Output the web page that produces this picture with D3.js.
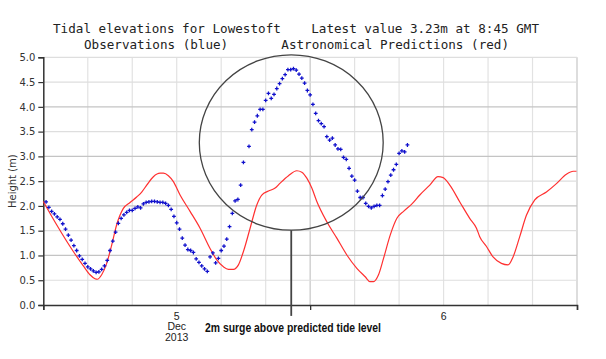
<!DOCTYPE html>
<html>
<head>
<meta charset="utf-8">
<script src="https://cdn.jsdelivr.net/npm/d3@7"></script>
<style>
  html, body { margin: 0; padding: 0; background: #fff; }
  svg { display: block; }
  text { white-space: pre; }
</style>
</head>
<body>
<svg id="chart" width="606" height="359"></svg>
<script>
// ---------------- DATA ----------------
const titleLine1 = "Tidal elevations for Lowestoft    Latest value 3.23m at 8:45 GMT";
const titleLine2 = "Observations (blue)       Astronomical Predictions (red)";
const yLabel = "Height (m)";
const annotationText = "2m surge above predicted tide level";

// x domain: 4 Dec 2013 12:00 GMT to 6 Dec 2013 12:00 GMT
const xStart = new Date(Date.UTC(2013, 11, 4, 12, 0));
const xEnd = new Date(Date.UTC(2013, 11, 6, 12, 0));

const yTicks = [0, 0.5, 1, 1.5, 2, 2.5, 3, 3.5, 4, 4.5, 5];
const dayLabels = [
  { date: new Date(Date.UTC(2013, 11, 5)), lines: ["5", "Dec", "2013"] },
  { date: new Date(Date.UTC(2013, 11, 6)), lines: ["6"] }
];

// Observations every 15 minutes starting 4 Dec 12:15 GMT (null = missing)
const obsStart = new Date(Date.UTC(2013, 11, 4, 12, 15));
const obsValues = [
  2.08, 1.97, 1.89, 1.84, 1.78, 1.73, 1.64, 1.53, 1.41, 1.31,
  1.20, 1.10, 0.99, 0.92, 0.84, 0.77, 0.73, 0.69, 0.66, 0.67,
  0.72, 0.79, 0.90, 1.10, 1.29, 1.47, 1.65, 1.75, 1.82, 1.87,
  1.91, 1.91, 1.95, 1.98, 1.96, 2.04, 2.07, 2.08, 2.09, 2.09,
  2.08, 2.07, 2.07, 2.05, 2.01, 1.93, 1.79, 1.66, 1.53, 1.35,
  1.21, 1.12, 1.10, 1.06, 0.93, 0.86, 0.79, 0.73, 0.68, 0.97,
  1.05, 0.85, 0.94, 1.10, 1.19, 1.33, 1.58, 1.85, 2.10, 2.13,
  2.42, 2.88, null, 3.20, 3.54, 3.69, 3.82, 3.95, 3.95, 4.13,
  4.27, 4.17, 4.25, 4.37, 4.47, 4.57, 4.65, 4.75, 4.75, 4.77,
  4.74, 4.66, 4.58, 4.48, 4.33, 4.24, 4.05, 3.87, 3.72, 3.66,
  3.60, 3.40, 3.33, 3.37, 3.23, 3.15, 3.14, 2.98, 2.94, 2.76,
  2.60, 2.52, 2.30, 2.17, 2.17, 2.05, 1.99, 1.96, 1.99, 2.01,
  2.01, 2.21, 2.34, 2.49, 2.62, 2.73, 2.84, 3.06, 3.11, 3.09,
  3.23
];

// Astronomical predictions: hours after 4 Dec 12:00 GMT and heights (m)
const predHours = [
  0, 1.2, 2.7, 3.6, 4.2, 4.65, 4.86, 5.25, 5.7, 6.15,
  6.6, 7.2, 7.8, 8.4, 8.85, 9.3, 9.9, 10.5, 10.8, 11.25,
  11.7, 12.3, 13.2, 14.1, 15.0, 15.6, 16.2, 16.65, 17.1, 17.55,
  18.0, 18.6, 19.2, 19.65, 20.25, 20.85, 21.3, 22.05, 22.8, 23.25,
  23.7, 24.15, 24.6, 25.5, 26.4, 27.3, 28.2, 28.95, 29.4, 29.7,
  30.15, 30.6, 31.2, 31.8, 32.4, 33.2, 33.86, 34.76, 35.5, 35.96,
  36.56, 37.46, 38.35, 38.96, 39.25, 39.86, 40.45, 41.2, 41.8, 42.25,
  42.85, 43.45, 44.2, 45.25, 46.15, 47.05, 47.66, 47.95
];
const predValues = [
  2.09, 1.62, 1.08, 0.79, 0.61, 0.53, 0.52, 0.61, 0.84, 1.21,
  1.62, 1.95, 2.07, 2.18, 2.28, 2.42, 2.59, 2.66, 2.66, 2.61,
  2.49, 2.22, 1.89, 1.55, 1.14, 0.91, 0.77, 0.72, 0.72, 0.81,
  1.08, 1.55, 2.02, 2.22, 2.30, 2.36, 2.46, 2.61, 2.71, 2.68,
  2.56, 2.36, 2.09, 1.68, 1.35, 1.01, 0.74, 0.57, 0.47, 0.47,
  0.61, 0.94, 1.41, 1.75, 1.89, 2.05, 2.22, 2.42, 2.59, 2.57,
  2.42, 2.08, 1.75, 1.55, 1.38, 1.18, 0.97, 0.84, 0.81, 0.97,
  1.38, 1.81, 2.12, 2.28, 2.45, 2.64, 2.70, 2.70
];

// Annotation ellipse (data units): centre time/height and half-extents
const surgeCentre = { date: new Date(Date.UTC(2013, 11, 5, 10, 18)), value: 3.28 };
const surgeHalfHours = 8.27;
const surgeHalfMetres = 1.77;
const surgePointerEnd = -0.22;

// ---------------- CHART ----------------
(function () {
const HOUR = 3600 * 1000;
const svg = d3.select("#chart");
svg.append("rect").attr("width", 606).attr("height", 359).attr("fill", "#fff");

const pLeft = 43.3, pRight = 577, pTop = 57.3, pBottom = 305;
const x = d3.scaleUtc().domain([xStart, xEnd]).range([pLeft, pRight]);
const y = d3.scaleLinear().domain([0, 5]).range([pBottom, pTop]);

// Titles
const mono = "'DejaVu Sans Mono', 'Liberation Mono', monospace";
svg.append("text").attr("x", 53).attr("y", 33)
  .attr("font-family", mono).attr("font-size", 12.6).attr("fill", "#222")
  .attr("textLength", 486).attr("lengthAdjust", "spacing")
  .text(titleLine1);
svg.append("text").attr("x", 84).attr("y", 49)
  .attr("font-family", mono).attr("font-size", 12.6).attr("fill", "#222")
  .attr("textLength", 425).attr("lengthAdjust", "spacing")
  .text(titleLine2);

// Grid: vertical every 4 hours
const gridTimes = d3.range(4, 49, 4).map(h => new Date(+xStart + h * HOUR));
svg.append("g").selectAll("line").data(gridTimes).join("line")
  .attr("x1", d => x(d)).attr("x2", d => x(d))
  .attr("y1", y(5)).attr("y2", y(0))
  .attr("stroke", d => d.getUTCHours() === 12 ? "#c6c6c6" : "#e2e2e2")
  .attr("stroke-width", 1.2);

// Grid: horizontal every 0.5 m
svg.append("g").selectAll("line").data(yTicks.filter(v => v > 0)).join("line")
  .attr("x1", pLeft).attr("x2", pRight)
  .attr("y1", d => y(d)).attr("y2", d => y(d))
  .attr("stroke", d => Number.isInteger(d) && d < 5 ? "#c4c4c4" : "#dedede")
  .attr("stroke-width", 1.2);

// Y axis
const yAxis = d3.axisLeft(y).tickValues(yTicks).tickSize(5).tickPadding(3)
  .tickFormat(d3.format(".1f"));
const gy = svg.append("g").attr("transform", `translate(${pLeft},0)`).call(yAxis);
gy.select(".domain").attr("stroke", "#333").attr("stroke-width", 1.5);
gy.selectAll(".tick line").attr("stroke", "#333").attr("stroke-width", 1.2);
gy.selectAll(".tick text").attr("font-family", "'DejaVu Sans', sans-serif")
  .attr("font-size", 10).attr("fill", "#333");

svg.append("text")
  .attr("transform", `translate(12,${(pTop + pBottom) / 2}) rotate(-90)`)
  .attr("text-anchor", "middle").attr("dy", "0.35em")
  .attr("font-family", "'DejaVu Sans', sans-serif").attr("font-size", 10).attr("fill", "#333")
  .text(yLabel);

// X axis (ticks at noon, labels at midnight)
const noonTicks = [0, 24, 48].map(h => new Date(+xStart + h * HOUR));
const xAxis = d3.axisBottom(x).tickValues(noonTicks).tickSize(5).tickFormat("");
const gx = svg.append("g").attr("transform", `translate(0,${pBottom})`).call(xAxis);
gx.select(".domain").attr("stroke", "#333").attr("stroke-width", 1.5);
gx.selectAll(".tick line").attr("stroke", "#333").attr("stroke-width", 1.3);

const dayG = svg.append("g").selectAll("text").data(dayLabels).join("text")
  .attr("x", d => x(d.date)).attr("y", 319.5)
  .attr("text-anchor", "middle")
  .attr("font-family", "'Liberation Sans', Arial, sans-serif").attr("font-size", 10.5)
  .attr("fill", "#222");
dayG.selectAll("tspan").data(d => d.lines.map(s => ({ s, x: x(d.date) }))).join("tspan")
  .attr("x", d => d.x).attr("dy", (d, i) => i === 0 ? 0 : 10.8)
  .text(d => d.s);

// Predictions (red line)
const predData = predHours.map((h, i) => ({ date: new Date(+xStart + h * HOUR), value: predValues[i] }));
svg.append("path").datum(predData)
  .attr("fill", "none").attr("stroke", "#ff3030").attr("stroke-width", 1.2)
  .attr("d", d3.line().x(d => x(d.date)).y(d => y(d.value)).curve(d3.curveMonotoneX));

// Observations (blue crosses)
const obsData = obsValues.map((v, k) => ({ date: new Date(+obsStart + k * 15 * 60 * 1000), value: v }))
  .filter(d => d.value !== null);
const cross = d3.symbol().type(d3.symbolCross).size(8);
svg.append("g").selectAll("path").data(obsData).join("path")
  .attr("transform", d => `translate(${x(d.date)},${y(d.value)})`)
  .attr("d", cross).attr("fill", "#1010cc");

// Annotation: ellipse + pointer + label
const cx = x(surgeCentre.date), cy = y(surgeCentre.value);
const rx = x(new Date(+surgeCentre.date + surgeHalfHours * HOUR)) - cx;
const ry = cy - y(surgeCentre.value + surgeHalfMetres);
svg.append("ellipse").attr("cx", cx).attr("cy", cy).attr("rx", rx).attr("ry", ry)
  .attr("fill", "none").attr("stroke", "#444").attr("stroke-width", 1.3);
svg.append("line").attr("x1", cx).attr("x2", cx)
  .attr("y1", cy + ry).attr("y2", y(surgePointerEnd))
  .attr("stroke", "#444").attr("stroke-width", 1.8);
svg.append("text").attr("x", 205).attr("y", 331.5)
  .attr("font-family", "'Liberation Sans Narrow', 'Liberation Sans', Arial, sans-serif")
  .attr("font-weight", "bold").attr("font-size", 12.5).attr("fill", "#111")
  .attr("textLength", 176).attr("lengthAdjust", "spacingAndGlyphs")
  .text(annotationText);
})();
</script>
</body>
</html>
